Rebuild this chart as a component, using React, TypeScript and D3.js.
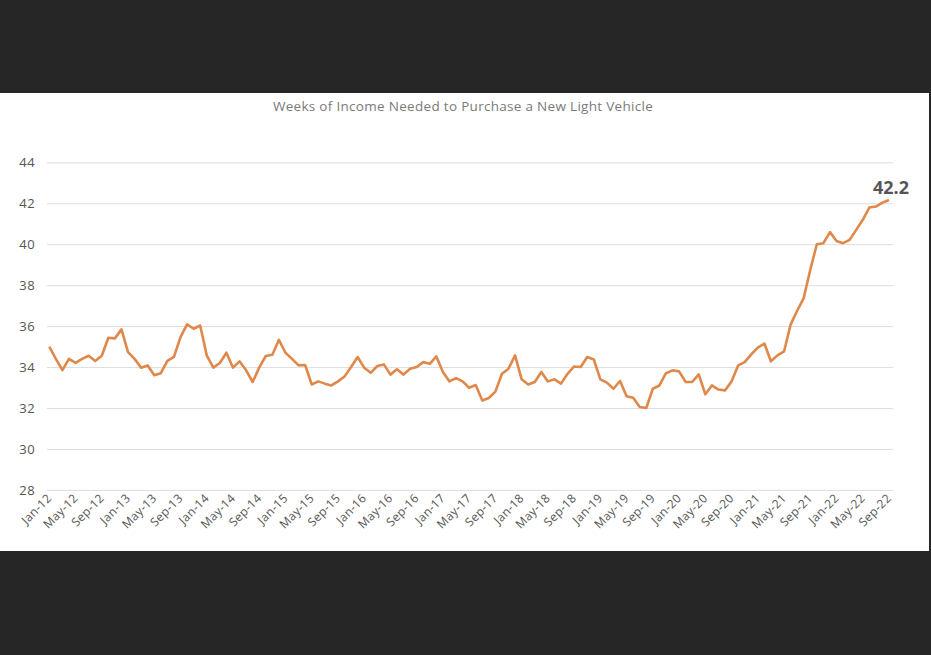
import React from "react";
import * as d3 from "d3";

// weeks of income needed, monthly Jan-12 .. Sep-22
const weeks = [
  35.0, 34.4, 33.85, 34.4, 34.2, 34.4, 34.55, 34.3, 34.55, 35.43, 35.4, 35.84,
  34.73, 34.4, 33.97, 34.08, 33.6, 33.7, 34.3, 34.5, 35.46, 36.08, 35.87, 36.03,
  34.57, 33.97, 34.2, 34.7, 33.97, 34.28, 33.84, 33.27, 33.97, 34.54, 34.6, 35.33,
  34.7, 34.4, 34.08, 34.1, 33.15, 33.3, 33.19, 33.1, 33.3, 33.54, 34.0, 34.49,
  33.97, 33.72, 34.05, 34.13, 33.63, 33.89, 33.63, 33.92, 34.0, 34.24, 34.16, 34.52,
  33.76, 33.3, 33.46, 33.3, 32.99, 33.12, 32.37, 32.49, 32.8, 33.67, 33.92, 34.57,
  33.4, 33.15, 33.27, 33.76, 33.3, 33.4, 33.19, 33.67, 34.03, 34.0, 34.49, 34.37,
  33.4, 33.24, 32.94, 33.32, 32.57, 32.5, 32.05, 32.0, 32.94, 33.1, 33.7, 33.84,
  33.79, 33.27, 33.27, 33.64, 32.67, 33.1, 32.9, 32.86, 33.3, 34.08, 34.24, 34.62,
  34.95, 35.15, 34.28, 34.57, 34.76, 36.07, 36.75, 37.37, 38.75, 40.0, 40.05, 40.59,
  40.16, 40.05, 40.21, 40.7, 41.19, 41.79, 41.84, 42.03, 42.16,
];

const xTickLabels = [
  "Jan-12", "May-12", "Sep-12", "Jan-13", "May-13", "Sep-13", "Jan-14", "May-14", "Sep-14",
  "Jan-15", "May-15", "Sep-15", "Jan-16", "May-16", "Sep-16", "Jan-17", "May-17", "Sep-17",
  "Jan-18", "May-18", "Sep-18", "Jan-19", "May-19", "Sep-19", "Jan-20", "May-20", "Sep-20",
  "Jan-21", "May-21", "Sep-21", "Jan-22", "May-22", "Sep-22",
];
const yTicks = [28, 30, 32, 34, 36, 38, 40, 42, 44];

const title = "Weeks of Income Needed to Purchase a New Light Vehicle";
const lastLabel = "42.2";

const W = 931;
const H = 655;

const App = () => {
  const svgRef = React.useRef<SVGSVGElement>(null);

  React.useEffect(() => {
    const svg = d3.select(svgRef.current);
    svg.selectAll("*").remove();

    // background: dark frame with white chart panel
    svg.append("rect").attr("width", W).attr("height", H).attr("fill", "#262626");
    svg.append("rect").attr("x", 0).attr("y", 93).attr("width", 929).attr("height", 458).attr("fill", "#ffffff");

    const xScale = d3.scaleLinear().domain([0, weeks.length - 1]).range([49.3, 889]);
    const yScale = d3.scaleLinear().domain([28, 44]).range([489.9, 162.3]);

    // title
    svg.append("text")
      .attr("x", 463)
      .attr("y", 111)
      .attr("text-anchor", "middle")
      .attr("font-family", "Open Sans, sans-serif")
      .attr("font-size", 13.5)
      .attr("letter-spacing", 0.3)
      .attr("fill", "#7a7a7a")
      .text(title);

    // y grid + labels
    const yAxis = d3.axisLeft(yScale)
      .tickValues(yTicks)
      .tickSize(-846)
      .tickPadding(12)
      .tickFormat((d) => String(d));
    const yG = svg.append("g").attr("transform", "translate(47,0)").call(yAxis);
    yG.select(".domain").remove();
    yG.selectAll("line").attr("stroke", "#dedede").attr("stroke-width", 1);
    yG.selectAll("text")
      .attr("font-family", "Open Sans, sans-serif")
      .attr("font-size", 13)
      .attr("letter-spacing", 0.4)
      .attr("fill", "#555");

    // x labels, rotated
    const xG = svg.append("g");
    xG.selectAll("text")
      .data(xTickLabels)
      .enter()
      .append("text")
      .attr("transform", (d, i) => `translate(${xScale(i * 4) + 3},${499}) rotate(-45)`)
      .attr("text-anchor", "end")
      .attr("font-family", "Open Sans, sans-serif")
      .attr("font-size", 12)
      .attr("letter-spacing", 0.3)
      .attr("fill", "#555")
      .text((d) => d);

    // the line
    const line = d3.line<number>()
      .x((d, i) => xScale(i))
      .y((d) => yScale(d));
    svg.append("path")
      .datum(weeks)
      .attr("fill", "none")
      .attr("stroke", "#e0884a")
      .attr("stroke-width", 2.6)
      .attr("stroke-linejoin", "round")
      .attr("d", line);

    // end label
    svg.append("text")
      .attr("x", 909)
      .attr("y", 194)
      .attr("text-anchor", "end")
      .attr("font-family", "Open Sans, sans-serif")
      .attr("font-weight", "bold")
      .attr("font-size", 18)
      .attr("fill", "#555")
      .text(lastLabel);
  }, []);

  return (
    <div style={{ position: "fixed", left: 0, top: 0, width: W, height: H }}>
      <svg ref={svgRef} width={W} height={H} style={{ display: "block" }} />
    </div>
  );
};

export default App;
